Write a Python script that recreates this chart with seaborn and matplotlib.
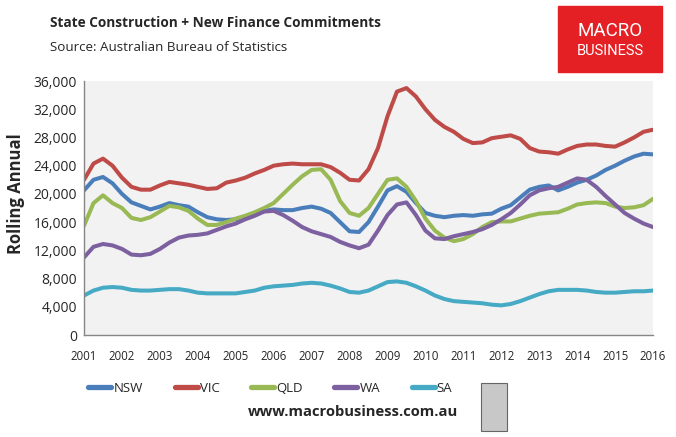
import numpy as np
import pandas as pd
import matplotlib
matplotlib.use("Agg")
import matplotlib.pyplot as plt
import seaborn as sns
from matplotlib.patches import Rectangle
from matplotlib.ticker import FuncFormatter

# -------------------------
# Data (quarterly)
# -------------------------
quarters = [2001 + 0.25 * k for k in range(61)]

nsw = [20500, 22000, 22400, 21500, 20000, 18800, 18300, 17800, 18200, 18700,
       18400, 18200, 17400, 16700, 16400, 16300, 16400, 16800, 17200, 17600,
       17800, 17700, 17700, 18000, 18200, 17900, 17300, 16000, 14700, 14600,
       16000, 18200, 20500, 21100, 20300, 18700, 17300, 16900, 16700, 16900,
       17000, 16900, 17100, 17200, 17900, 18400, 19500, 20600, 21000, 21200,
       20500, 21000, 21600, 22000, 22600, 23400, 24000, 24700, 25300, 25700,
       25600]
vic = [22000, 24300, 25000, 24000, 22300, 21000, 20600, 20600, 21200, 21700,
       21500, 21300, 21000, 20700, 20800, 21600, 21900, 22300, 22900, 23400,
       24000, 24200, 24300, 24200, 24200, 24200, 23800, 23000, 22000, 21900,
       23500, 26500, 31000, 34500, 35000, 33800, 32000, 30500, 29500, 28800,
       27800, 27200, 27300, 27900, 28100, 28300, 27800, 26500, 26000, 25900,
       25700, 26300, 26800, 27000, 27000, 26800, 26700, 27300, 28000, 28800,
       29100]
qld = [15500, 18700, 19800, 18700, 18000, 16600, 16300, 16700, 17500, 18300,
       18100, 17600, 16500, 15600, 15600, 16000, 16500, 16900, 17400, 18000,
       18700, 20000, 21300, 22500, 23400, 23500, 22000, 19000, 17300, 16900,
       18000, 20000, 22000, 22200, 21000, 19000, 16500, 14800, 13800, 13300,
       13600, 14300, 15300, 16000, 16100, 16100, 16500, 16900, 17200, 17300,
       17400, 17900, 18500, 18700, 18800, 18700, 18200, 18000, 18100, 18400,
       19300]
wa = [11000, 12500, 12900, 12700, 12200, 11400, 11300, 11500, 12200, 13100,
      13800, 14100, 14200, 14400, 14900, 15400, 15800, 16400, 16900, 17500,
      17600, 17000, 16200, 15300, 14700, 14300, 13900, 13200, 12700, 12300,
      12800, 14800, 17000, 18500, 18800, 17000, 14800, 13700, 13600, 14000,
      14300, 14600, 15000, 15600, 16400, 17300, 18500, 19800, 20500, 20800,
      21000, 21600, 22200, 22000, 21000, 19700, 18500, 17300, 16500, 15800,
      15300]
sa = [5600, 6300, 6700, 6800, 6700, 6400, 6300, 6300, 6400, 6500,
      6500, 6300, 6000, 5900, 5900, 5900, 5900, 6100, 6300, 6700,
      6900, 7000, 7100, 7300, 7400, 7300, 7000, 6600, 6100, 6000,
      6300, 6900, 7500, 7600, 7400, 6900, 6300, 5600, 5100, 4800,
      4700, 4600, 4500, 4300, 4200, 4400, 4800, 5300, 5800, 6200,
      6400, 6400, 6400, 6300, 6100, 6000, 6000, 6100, 6200, 6200,
      6300]

states = ["NSW", "VIC", "QLD", "WA", "SA"]
colors = {"NSW": "#4a7ebb", "VIC": "#be4b48", "QLD": "#98b954",
          "WA": "#7d60a0", "SA": "#46aac5"}
years = list(range(2001, 2017))
yticks = list(range(0, 36001, 4000))

df = pd.DataFrame({"date": quarters, "NSW": nsw, "VIC": vic, "QLD": qld,
                   "WA": wa, "SA": sa})
long_df = df.melt(id_vars="date", var_name="state", value_name="value")

# -------------------------
# Plot
# -------------------------
sns.set_style("white")
plt.rcParams["font.family"] = ["Open Sans", "DejaVu Sans"]

fig = plt.figure(figsize=(6.76, 4.37), dpi=100)
ax = fig.add_axes([0.1243, 0.2334, 0.8417, 0.5812])
ax.set_facecolor("#f2f2f2")

sns.lineplot(data=long_df, x="date", y="value", hue="state",
             hue_order=states, palette=colors, linewidth=2.9, ax=ax,
             legend=False)

ax.set_xlim(2001, 2016)
ax.set_ylim(0, 36000)
ax.set_xticks(years)
ax.set_xticklabels([str(y) for y in years], fontsize=8.3)
ax.set_yticks(yticks)
ax.yaxis.set_major_formatter(FuncFormatter(lambda v, p: f"{int(v):,}"))
ax.tick_params(axis="y", labelsize=10, length=0, pad=5)
ax.tick_params(axis="x", length=4, color="#868686", direction="out", pad=7)
ax.set_xlabel("")
ax.set_ylabel("Rolling Annual", fontsize=12, fontweight="bold")
ax.yaxis.set_label_coords(-0.104, 0.555)

for side in ["top", "right"]:
    ax.spines[side].set_visible(False)
for side in ["left", "bottom"]:
    ax.spines[side].set_color("#868686")
    ax.spines[side].set_linewidth(1)

# legend
handles = [plt.Line2D([], [], color=colors[s], linewidth=3.8) for s in states]
fig.legend(handles, states, loc="center", bbox_to_anchor=(0.40, 0.112),
           ncol=5, frameon=False, fontsize=9.5, handlelength=1.75,
           handletextpad=0.15, columnspacing=2.4)

# titles
fig.text(0.074, 0.948, "State Construction + New Finance Commitments",
         fontsize=9.8, fontweight="bold", va="center")
fig.text(0.074, 0.892, "Source: Australian Bureau of Statistics",
         fontsize=9.6, va="center")

# logo box
fig.patches.append(Rectangle((0.825, 0.835), 0.155, 0.151,
                             transform=fig.transFigure, color="#e42024"))
fig.text(0.9025, 0.930, "MACRO", color="white", fontsize=13.5, ha="center",
         va="center", family=["Roboto", "DejaVu Sans"])
fig.text(0.9025, 0.884, "BUSINESS", color="white", fontsize=10.5,
         ha="center", va="center", family=["Roboto", "DejaVu Sans"])

# footer
fig.text(0.678, 0.057, "www.macrobusiness.com.au", fontsize=10.6,
         fontweight="bold", ha="right", va="center")
fig.patches.append(Rectangle((0.712, 0.013), 0.038, 0.11,
                             transform=fig.transFigure, facecolor="#c8c8c8",
                             edgecolor="#666666", linewidth=0.8))

fig.savefig("out.png", dpi=100)
